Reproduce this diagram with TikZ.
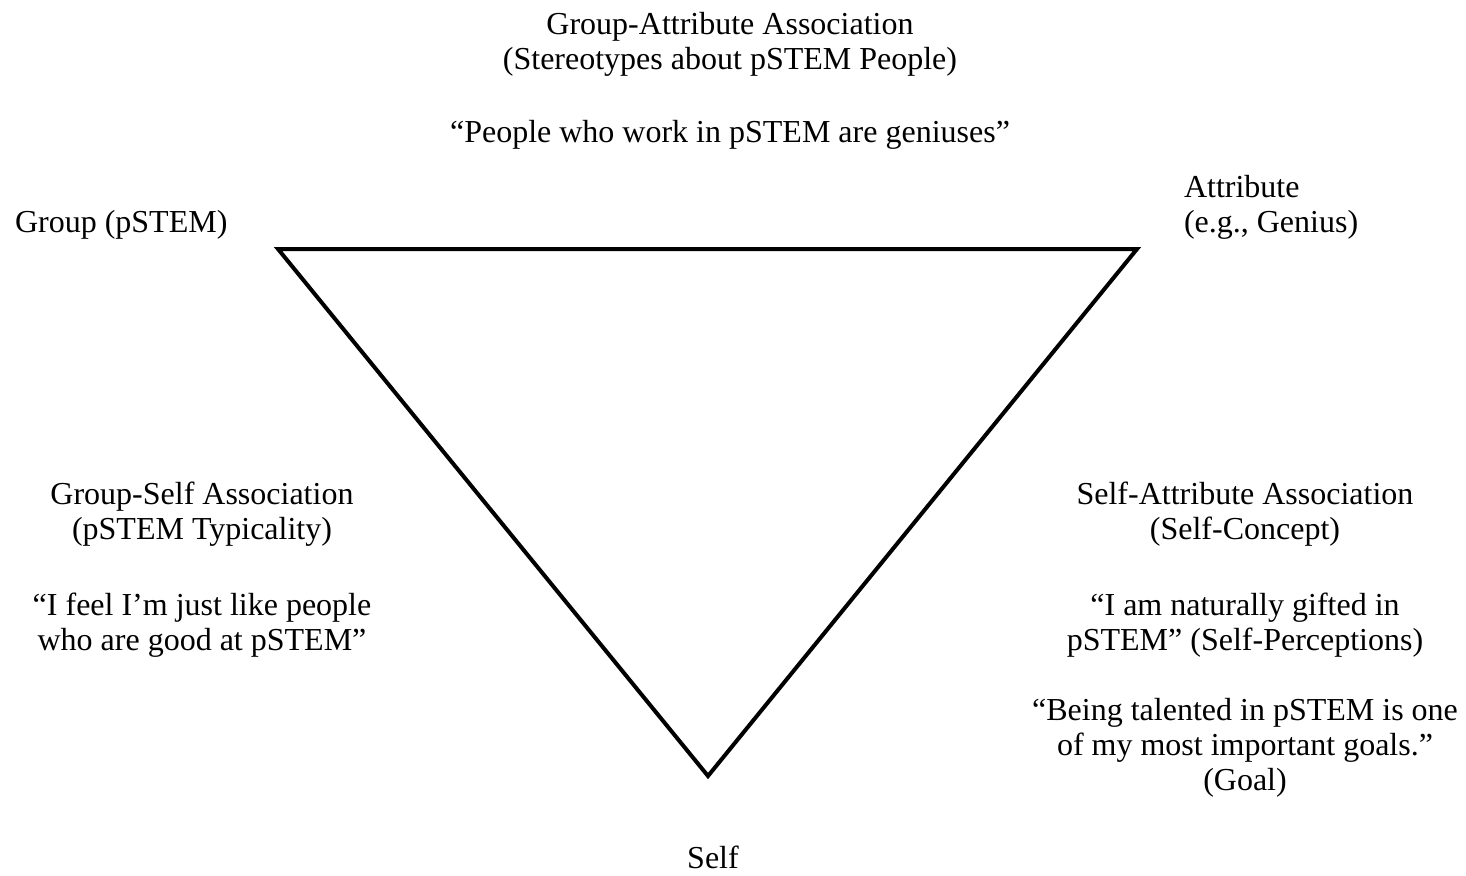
\documentclass[tikz,border=0pt]{standalone}
\usepackage{fontspec}
\setmainfont{Liberation Serif}
\begin{document}
\begin{tikzpicture}[x=1pt,y=-1pt,
  lbl/.style={inner sep=0pt,outer sep=0pt,anchor=base,font=\fontsize{32}{35}\selectfont},
  lbll/.style={lbl,anchor=base west},
  tri/.style={draw=black,line width=4pt,line join=miter}]
\useasboundingbox (0,0) rectangle (1466,875);
% triangle vertices
\coordinate (G) at (278,249);
\coordinate (A) at (1137,249);
\coordinate (S) at (708,776);
\draw[tri] (G) -- (A) -- (S) -- cycle;
% top block
\node[lbl] (t1) at (730,35) {Group-Attribute Association};
\node[lbl] (t2) at (730,70) {(Stereotypes about pSTEM People)};
\node[lbl] (t3) at (730,142) {“People who work in pSTEM are geniuses”};
% corner labels
\node[lbll] (grp) at (15,232) {Group (pSTEM)};
\node[lbll] (att1) at (1184,197) {Attribute};
\node[lbll] (att2) at (1184,232) {(e.g., Genius)};
\node[lbl] (self) at (713,868) {Self};
% left block
\node[lbl] (l1) at (202,504) {Group-Self Association};
\node[lbl] (l2) at (202,539) {(pSTEM Typicality)};
\node[lbl] (l3) at (202,615) {“I feel I’m just like people};
\node[lbl] (l4) at (202,650) {who are good at pSTEM”};
% right block
\node[lbl] (r1) at (1245,504) {Self-Attribute Association};
\node[lbl] (r2) at (1245,539) {(Self-Concept)};
\node[lbl] (r3) at (1245,615) {“I am naturally gifted in};
\node[lbl] (r4) at (1245,650) {pSTEM” (Self-Perceptions)};
\node[lbl] (r5) at (1245,720) {“Being talented in pSTEM is one};
\node[lbl] (r6) at (1245,755) {of my most important goals.”};
\node[lbl] (r7) at (1245,790) {(Goal)};
\end{tikzpicture}
\end{document}
